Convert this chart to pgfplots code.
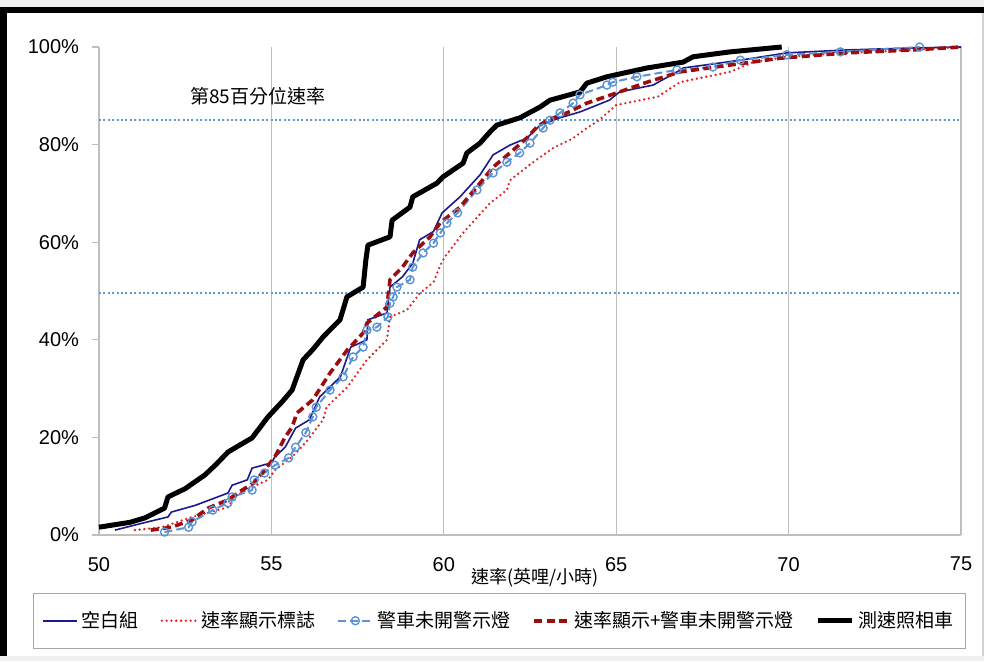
\documentclass[border=0pt]{standalone}
\usepackage{fontspec}
\setmainfont{Liberation Sans}
\newfontfamily\cjk{Noto Sans CJK TC}
\usepackage{pgfplots}
\pgfplotsset{compat=1.18}
\definecolor{navyline}{HTML}{1A1A8C}
\definecolor{redline}{HTML}{E02424}
\definecolor{ltblue}{HTML}{5A93D6}
\definecolor{darkred}{HTML}{9C0E0E}
\definecolor{refblue}{HTML}{5B9BD5}
\definecolor{gridgray}{HTML}{BFBFBF}
\begin{document}
\begin{tikzpicture}
  \useasboundingbox (-49.5pt,-63pt) rectangle (442.5pt,267.5pt);
  \fill[gray!12] (-49.5pt,264pt) rectangle (442.5pt,267.5pt);
  \fill[gray!12] (-49.5pt,-63pt) rectangle (442.5pt,-60.5pt);
  \draw[gray!35, line width=0.6pt] (442pt,-60.5pt) -- (442pt,264pt);
  \draw[black, line width=3.2pt] (-49.5pt,262.4pt) -- (442.5pt,262.4pt);
  \draw[black, line width=3.4pt] (-47.8pt,-60.5pt) -- (-47.8pt,264pt);
  \begin{axis}[
    at={(0pt,0pt)}, anchor=south west,
    scale only axis, width=431pt, height=244pt,
    xmin=50, xmax=75, ymin=0, ymax=100,
    axis x line*=bottom, axis y line*=left,
    axis line style={gridgray, line width=0.6pt},
    xtick={50,55,60,65,70,75},
    ytick={0,20,40,60,80,100},
    yticklabels={0\%,20\%,40\%,60\%,80\%,100\%},
    xmajorgrids, grid style={gridgray, line width=0.6pt},
    x tick style={draw=none},
    y tick style={gridgray, line width=0.6pt},
    tick align=outside, major tick length=3.5pt,
    /pgf/number format/assume math mode=true,
    ticklabel style={font=\fontsize{10}{12}\selectfont},
    xticklabel style={yshift=-4pt},
    yticklabel style={xshift=-3pt},
    clip=false,
    legend columns=5,
    legend style={at={(0.465,-0.118)}, anchor=north, draw=gray!70,
      line width=0.6pt, inner xsep=4pt, inner ysep=7pt,
      font=\cjk\fontsize{9.5}{11}\selectfont,
      /tikz/every even column/.append style={column sep=9pt}},
    legend cell align=left,
  ]
    \addplot[refblue, line width=1pt, dash pattern=on 1pt off 1.2pt, forget plot]
      coordinates {(50,85) (75,85)};
    \addplot[refblue, line width=1pt, dash pattern=on 1pt off 1.2pt, forget plot]
      coordinates {(50,49.6) (75,49.6)};

    \addplot[navyline, line width=0.8pt] coordinates {
      (50.46,1.0) (51.3,2.5) (52.0,3.7) (52.1,4.7) (52.8,6.1) (53.74,8.6)
      (53.86,10.2) (54.3,11.3) (54.44,13.7) (55.0,14.8) (55.1,16.0) (55.4,18.0)
      (55.7,21.9) (56.1,23.6) (56.4,28.3) (57.0,32.4) (57.3,38.5) (57.77,40.0)
      (57.8,44.1) (58.35,45.5) (58.44,50.8) (58.8,52.9) (59.1,55.7) (59.3,60.5)
      (59.7,62.2) (59.95,66) (60.47,69.3) (61.05,73.8) (61.43,77.9) (61.92,79.9)
      (62.4,81.3) (62.8,84) (63.37,85.5) (63.95,86.7) (64.8,89.1) (65.1,90.8)
      (66.07,92.2) (66.76,94.9) (66.94,95.7) (68.6,97.3) (69.95,98.8) (71.7,99.4)
      (73.6,99.8) (75,100)};
    \addlegendentry{空白組}

    \addplot[redline, line width=1.3pt, line cap=round, dash pattern=on 0pt off 2.4pt] coordinates {
      (51.04,1.0) (51.83,1.6) (52.7,3.7) (53.74,5.7) (54.0,8.2) (54.44,9.8)
      (54.9,11.3) (55.1,13.3) (55.6,16.0) (56.0,19) (56.5,23.6) (56.6,26.2)
      (57.2,30.3) (57.77,35.9) (58.35,40.0) (58.44,44.7) (58.93,46.1) (59.3,49.5)
      (59.7,51.8) (59.9,55.3) (60.03,57) (60.56,61.9) (61.34,68) (61.83,70.7)
      (61.92,72.7) (62.59,76.4) (63.17,79.3) (63.75,81.3) (64.15,83.4) (64.5,85)
      (65.0,88.1) (66.2,89.8) (66.85,92.8) (68.3,94.9) (68.97,96.9) (69.95,98.0)
      (71.7,98.8) (73.6,99.4) (75,100)};
    \addlegendentry{速率顯示標誌}

    \addplot[ltblue, line width=1pt, dash pattern=on 4pt off 2pt,
      mark=o, mark size=2pt, mark options={solid, fill=white, line width=0.7pt}] coordinates {
      (51.9,0.6) (52.6,1.6) (52.7,2.7) (53.3,5.1) (53.74,6.6) (53.86,7.8)
      (54.44,9.2) (54.5,11.3) (54.8,12.7) (55.1,14.3) (55.5,15.8) (55.7,18.0)
      (56.0,21) (56.2,24.2) (56.3,26.2) (56.7,29.7) (57.08,32.4) (57.37,36.5)
      (57.66,38.5) (57.77,42.0) (58.06,42.6) (58.38,44.7) (58.44,47.5) (58.53,48.8)
      (58.64,50.8) (59.02,52.3) (59.1,54.9) (59.4,57.8) (59.7,59.8) (59.9,61.9)
      (60.09,63.9) (60.4,66) (60.96,70.7) (61.43,74.2) (61.83,76.4) (62.2,78.3)
      (62.5,80.3) (62.88,83.4) (63.08,85) (63.37,86.5) (63.75,88.5) (63.95,90.2)
      (64.73,92.2) (64.9,92.8) (65.6,93.9) (66.76,95.3) (67.8,95.9) (68.6,97.3)
      (69.95,98.4) (71.5,99.0) (73.8,100)};
    \addlegendentry{警車未開警示燈}

    \addplot[darkred, line width=1.8pt, dash pattern=on 4pt off 2.2pt] coordinates {
      (51.5,1.0) (52.1,1.6) (52.7,3.1) (53.16,5.5) (53.74,7.2) (54.15,9.2)
      (54.5,10.7) (54.8,13.3) (55.1,16.0) (55.4,20.1) (55.6,22.1) (55.74,25.0)
      (56.2,27.7) (56.7,33.2) (57.2,37.9) (57.66,41.4) (57.77,43.4) (58.35,46.7)
      (58.44,52.3) (58.8,54.9) (59.1,57.8) (59.6,61.1) (59.9,64.0) (60.47,67.2)
      (61.05,72.1) (61.43,75.4) (61.92,78.3) (62.4,81.3) (62.7,83.6) (63.0,85)
      (63.57,86.5) (64.15,88.5) (65.1,90.8) (65.9,92.8) (66.85,94.9) (68.3,96.3)
      (69.75,97.7) (71.7,98.8) (73.6,99.4) (75,100)};
    \addlegendentry{速率顯示+警車未開警示燈}

    \addplot[black, line width=2.5pt, line join=round] coordinates {
      (50,1.6) (50.9,2.6) (51.33,3.5) (51.9,5.5) (52.0,7.8) (52.5,9.5)
      (53.07,12.3) (53.4,14.5) (53.74,17.0) (54.1,18.5) (54.44,19.9) (54.9,24.2)
      (55.31,27.3) (55.6,29.7) (55.92,35.9) (56.2,38) (56.5,40.6) (56.99,44.1)
      (57.19,48.8) (57.66,50.8) (57.74,56.4) (57.8,59.4) (58.44,61.1) (58.5,64.5)
      (59.02,67.2) (59.1,69.3) (59.8,72.1) (59.98,73.4) (60.56,76.2) (60.67,78.3)
      (61.05,80.3) (61.34,82.6) (61.54,84.0) (62.21,85.5) (62.79,87.7) (63.08,89.1)
      (63.95,90.8) (64.15,92.6) (64.73,93.9) (65.89,95.7) (66.94,96.9) (67.23,98.0)
      (68.3,99.0) (69.8,100)};
    \addlegendentry{測速照相車}

    \node[font=\cjk\fontsize{9.5}{11}\selectfont] at (axis cs:54.6,90) {第85百分位速率};
    \node[font=\cjk\fontsize{9}{11}\selectfont] at (rel axis cs:0.506,0) [yshift=-21.5pt] {速率(英哩/小時)};
  \end{axis}
\end{tikzpicture}
\end{document}
